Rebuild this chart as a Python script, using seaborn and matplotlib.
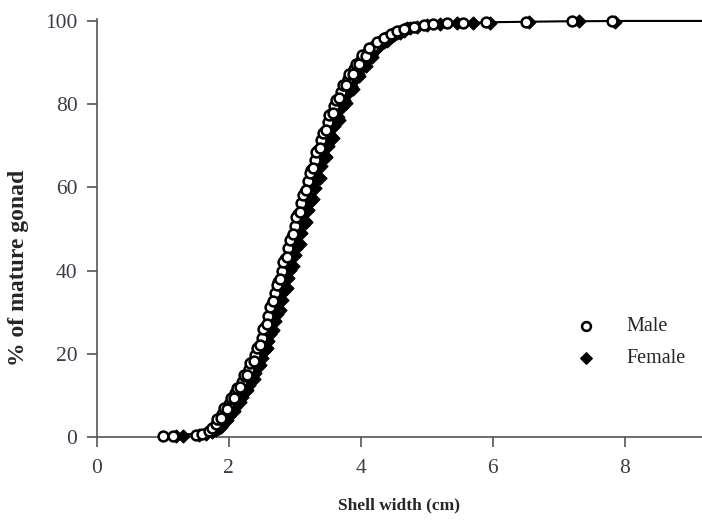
import numpy as np
import pandas as pd
import matplotlib
matplotlib.use("Agg")
import matplotlib.pyplot as plt
import seaborn as sns

# Male (open circles)
male_x = [1.0, 1.15, 1.5, 1.6, 1.7, 1.75, 1.8, 1.85, 1.9, 1.95, 2.0, 2.05, 2.1, 2.15,
          2.2, 2.25, 2.3, 2.35, 2.4, 2.45, 2.5, 2.55, 2.6, 2.65, 2.7, 2.75, 2.8, 2.85,
          2.9, 2.95, 3.0, 3.05, 3.1, 3.15, 3.2, 3.25, 3.3, 3.35, 3.4, 3.45, 3.5, 3.55,
          3.6, 3.65, 3.7, 3.75, 3.8, 3.85, 3.9, 3.95, 4.0, 4.05, 4.1, 4.15, 4.2, 4.3,
          4.4, 4.5, 4.6, 4.7, 4.8, 4.95, 5.1, 5.3, 5.55, 5.9, 6.5, 7.2, 7.8,
          1.825, 1.875, 1.925, 1.975, 2.025, 2.075, 2.125, 2.175, 2.225, 2.275, 2.325,
          2.375, 2.425, 2.475, 2.525, 2.575, 2.625, 2.675, 2.725, 2.775, 2.825, 2.875,
          2.925, 2.975, 3.025, 3.075, 3.125, 3.175, 3.225, 3.275, 3.325, 3.375, 3.425,
          3.475, 3.525, 3.575, 3.625, 3.675, 3.725, 3.775, 3.825, 3.875, 3.925, 3.975,
          4.025, 4.075, 4.125, 4.25, 4.35, 4.45, 4.55, 4.65]
male_y = [0.3, 0.2, 0.6, 0.8, 1.5, 2.2, 3.2, 4.4, 5.6, 6.8, 8.0, 9.2, 10.5, 11.8,
          13.2, 14.7, 16.3, 18.0, 19.8, 21.8, 23.9, 26.5, 29.2, 31.9, 34.6, 37.3, 40.0, 42.7,
          45.4, 48.1, 50.8, 53.5, 56.2, 58.9, 61.5, 64.1, 66.6, 69.0, 71.3, 73.5, 75.6, 77.6,
          79.5, 81.3, 83.0, 84.6, 86.0, 87.3, 88.5, 89.6, 90.6, 91.5, 92.4, 93.2, 93.9, 95.2,
          96.2, 97.0, 97.7, 98.2, 98.6, 99.0, 99.3, 99.5, 99.6, 99.7, 99.8, 100.0, 100.0,
          4.3, 4.6, 6.9, 6.8, 9.3, 9.4, 11.9, 12.0, 14.8, 14.9, 17.8,
          18.3, 21.5, 22.2, 25.9, 27.2, 31.2, 32.6, 36.6, 37.9, 42.0, 43.3,
          47.4, 48.7, 52.8, 54.1, 58.2, 59.4, 63.5, 64.6, 68.5, 69.4, 73.1,
          73.8, 77.3, 77.8, 81.1, 81.4, 84.5, 84.7, 87.3, 87.2, 89.7, 89.6,
          91.7, 91.5, 93.5, 94.9, 96.0, 96.8, 97.6, 98.1]

# Female (filled diamonds)
female_x = [1.2, 1.3, 1.55, 1.65, 1.75, 1.8, 1.85, 1.9, 1.95, 2.0, 2.05, 2.1, 2.15, 2.2,
            2.25, 2.3, 2.35, 2.4, 2.45, 2.5, 2.55, 2.6, 2.65, 2.7, 2.75, 2.8, 2.85, 2.9,
            2.95, 3.0, 3.05, 3.1, 3.15, 3.2, 3.25, 3.3, 3.35, 3.4, 3.45, 3.5, 3.55, 3.6,
            3.65, 3.7, 3.75, 3.8, 3.85, 3.9, 3.95, 4.0, 4.05, 4.1, 4.15, 4.2, 4.25, 4.35,
            4.45, 4.55, 4.65, 4.75, 4.85, 5.0, 5.2, 5.45, 5.7, 5.95, 6.55, 7.3, 7.85,
            1.875, 1.925, 1.975, 2.025, 2.075, 2.125, 2.175, 2.225, 2.275, 2.325, 2.375,
            2.425, 2.475, 2.525, 2.575, 2.625, 2.675, 2.725, 2.775, 2.825, 2.875, 2.925,
            2.975, 3.025, 3.075, 3.125, 3.175, 3.225, 3.275, 3.325, 3.375, 3.425, 3.475,
            3.525, 3.575, 3.625, 3.675, 3.725, 3.775, 3.825, 3.875, 3.925, 3.975, 4.025,
            4.075, 4.125, 4.175, 4.3, 4.4, 4.5, 4.6, 4.7]
female_y = [0.2, 0.3, 0.5, 0.8, 1.2, 1.6, 2.2, 3.0, 4.0, 5.0, 6.1, 7.2, 8.4, 9.7,
            11.0, 12.4, 13.9, 15.5, 17.2, 19.0, 21.0, 23.1, 25.4, 27.8, 30.3, 32.9, 35.6, 38.3,
            41.0, 43.7, 46.4, 49.1, 51.8, 54.5, 57.2, 59.9, 62.5, 65.1, 67.6, 70.0, 72.4, 74.7,
            76.9, 79.0, 80.9, 82.7, 84.4, 85.9, 87.3, 88.6, 89.8, 90.9, 91.9, 92.8, 93.6, 95.0,
            96.1, 97.0, 97.7, 98.2, 98.6, 99.0, 99.2, 99.4, 99.5, 99.6, 99.7, 99.9, 99.8,
            2.3, 3.9, 4.1, 6.0, 6.2, 8.3, 8.5, 10.9, 11.2, 13.7, 14.0,
            16.9, 17.4, 20.6, 21.3, 24.8, 25.7, 29.6, 30.6, 34.8, 35.8, 40.1,
            41.1, 45.5, 46.4, 50.9, 51.7, 56.4, 57.1, 61.7, 62.2, 66.8, 67.2,
            71.7, 71.9, 76.2, 76.3, 80.4, 80.3, 83.8, 83.7, 86.9, 86.8, 89.5,
            89.2, 91.6, 91.3, 94.5, 95.1, 96.7, 97.1, 98.2]

# Fitted maturity curve
fit_x = [1.0, 1.5, 1.8, 2.0, 2.2, 2.4, 2.6, 2.8, 3.0, 3.2, 3.4, 3.6, 3.8, 4.0,
         4.2, 4.5, 4.8, 5.2, 6.0, 7.0, 8.0, 9.3]
fit_y = [0.2, 0.8, 3.0, 6.5, 12.0, 19.5, 28.5, 39.5, 50.5, 61.0, 70.5, 78.5, 85.5, 90.5,
         94.0, 97.0, 98.6, 99.3, 99.7, 99.9, 100.0, 100.0]

sns.set_theme(style="white")
plt.rcParams['font.family'] = ['Liberation Serif', 'DejaVu Serif']

fig = plt.figure(figsize=(7.02, 5.24), dpi=100)
ax = fig.add_axes([0.138, 0.166, 0.862, 0.798])

fit = pd.DataFrame({'x': fit_x, 'y': fit_y})
sns.lineplot(data=fit, x='x', y='y', color='black', linewidth=1.5, ax=ax,
             zorder=1, clip_on=False)

female = pd.DataFrame({'x': female_x, 'y': female_y})
male = pd.DataFrame({'x': male_x, 'y': male_y})
sns.scatterplot(data=female, x='x', y='y', marker='D', s=42, color='black',
                edgecolor='black', linewidth=1.0, ax=ax, zorder=3, clip_on=False,
                label='Female')
sns.scatterplot(data=male, x='x', y='y', marker='o', s=50, facecolor='white',
                edgecolor='black', linewidth=1.8, ax=ax, zorder=4, clip_on=False,
                label='Male')

ax.set_xlim(0, 9.17)
ax.set_ylim(0, 100.5)
ax.set_xticks([0, 2, 4, 6, 8])
ax.set_yticks([0, 20, 40, 60, 80, 100])

for side in ['top', 'right']:
    ax.spines[side].set_visible(False)
for side in ['left', 'bottom']:
    ax.spines[side].set_color('#555555')
    ax.spines[side].set_linewidth(1.2)

ax.tick_params(axis='both', direction='out', length=7, width=1.2, color='#555555',
               labelsize=15.5, labelcolor='#3c3c4c', left=True, bottom=True)
ax.tick_params(axis='x', pad=9)
ax.tick_params(axis='y', pad=7)

ax.set_xlabel('Shell width (cm)', fontsize=12.5, fontweight='bold', labelpad=14)
ax.set_ylabel('% of mature gonad', fontsize=17, fontweight='bold')
ax.yaxis.set_label_coords(-0.112, 0.404)

handles, labels = ax.get_legend_handles_labels()
order = [labels.index('Male'), labels.index('Female')]
ax.legend([handles[i] for i in order], [labels[i] for i in order],
          loc='upper left', bbox_to_anchor=(0.745, 0.33), frameon=False,
          fontsize=14.5, handletextpad=1.0, labelspacing=0.65, markerscale=0.9)

plt.savefig('out.png', dpi=100)
